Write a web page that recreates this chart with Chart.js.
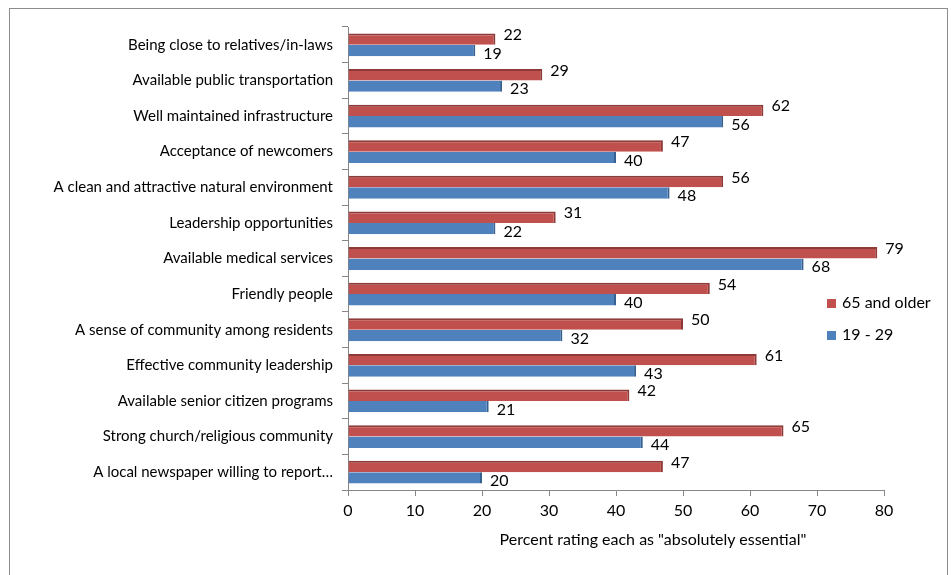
<!DOCTYPE html>
<html>
<head>
<meta charset="utf-8">
<script src="https://cdn.jsdelivr.net/npm/chart.js@4.4.1/dist/chart.umd.min.js"></script>
<style>
    body { margin: 0; background: #fff; }
    #wrap { position: relative; width: 951px; height: 575px; overflow: hidden; }
    #frame { position: absolute; left: 9px; top: 8px; width: 937px; height: 600px; border: 1px solid #8c8c8c; }
    #chart { position: absolute; left: 0; top: 0; }
    .legend { position: absolute; left: 827px; font: 16px Lato, sans-serif; color: #000; line-height: 18px; }
    .legend span { display: inline-block; width: 9px; height: 9px; margin-right: 6px; }
    #xtitle { position: absolute; top: 529px; left: 453px; width: 400px; text-align: center; font: 16px Lato, sans-serif; color: #000; }
</style>
</head>
<body>
<div id="wrap">
    <div id="frame"></div>
    <canvas id="chart" width="951" height="575"></canvas>
    <div class="legend" style="top:293px"><span style="background:#C0504D"></span>65 and older</div>
    <div class="legend" style="top:325px"><span style="background:#4F81BD"></span>19 - 29</div>
    <div id="xtitle">Percent rating each as "absolutely essential"</div>
</div>
<script>
// categories, top to bottom
const categories = [
    'Being close to relatives/in-laws',
    'Available public transportation',
    'Well maintained infrastructure',
    'Acceptance of newcomers',
    'A clean and attractive natural environment',
    'Leadership opportunities',
    'Available medical services',
    'Friendly people',
    'A sense of community among residents',
    'Effective community leadership',
    'Available senior citizen programs',
    'Strong church/religious community',
    'A local newspaper willing to report…'
];
const olderValues = [22, 29, 62, 47, 56, 31, 79, 54, 50, 61, 42, 65, 47];
const youngValues = [19, 23, 56, 40, 48, 22, 68, 40, 32, 43, 21, 44, 20];
const xMin = 0, xMax = 80, xStep = 10;

const axisGrey = '#868686';

// value labels at the end of each bar
const barLabels = {
    id: 'barLabels',
    afterDatasetsDraw(chart) {
        const ctx = chart.ctx;
        ctx.save();
        ctx.font = '16px Lato, sans-serif';
        ctx.fillStyle = '#000';
        ctx.textBaseline = 'middle';
        chart.data.datasets.forEach((ds, i) => {
            chart.getDatasetMeta(i).data.forEach((bar, j) => {
                const dy = i === 0 ? -4 : 3;
                ctx.fillText(ds.data[j], bar.x + 8, bar.y + dy);
            });
        });
        ctx.restore();
    }
};

const ctx = document.getElementById('chart').getContext('2d');
new Chart(ctx, {
    type: 'bar',
    data: {
        labels: categories,
        datasets: [
            { label: '65 and older', data: olderValues, backgroundColor: '#C0504D', borderColor: '#8E3A38',
              borderWidth: { top: 2, right: 2, bottom: 0, left: 0 }, borderSkipped: false },
            { label: '19 - 29', data: youngValues, backgroundColor: '#4F81BD', borderColor: '#35608F',
              borderWidth: { top: 0, right: 2, bottom: 0, left: 0 }, borderSkipped: false }
        ]
    },
    options: {
        indexAxis: 'y',
        responsive: false,
        animation: false,
        categoryPercentage: 0.64,
        barPercentage: 1,
        layout: { padding: { left: 0, right: 67, top: 27, bottom: 45 } },
        plugins: { legend: { display: false }, tooltip: { enabled: false } },
        scales: {
            x: {
                min: xMin, max: xMax,
                ticks: { stepSize: xStep, color: '#000', font: { family: 'Lato', size: 16 }, padding: 5 },
                grid: { drawOnChartArea: false, color: axisGrey, tickLength: 6 },
                border: { color: axisGrey },
                afterFit(scale) { scale.height = 40; }
            },
            y: {
                ticks: { color: '#000', font: { family: 'Lato', size: 15 }, padding: 9, autoSkip: false },
                grid: { drawOnChartArea: false, color: axisGrey, tickLength: 6 },
                border: { color: axisGrey },
                afterFit(scale) { scale.width = 348; }
            }
        }
    },
    plugins: [barLabels]
});
</script>
</body>
</html>
